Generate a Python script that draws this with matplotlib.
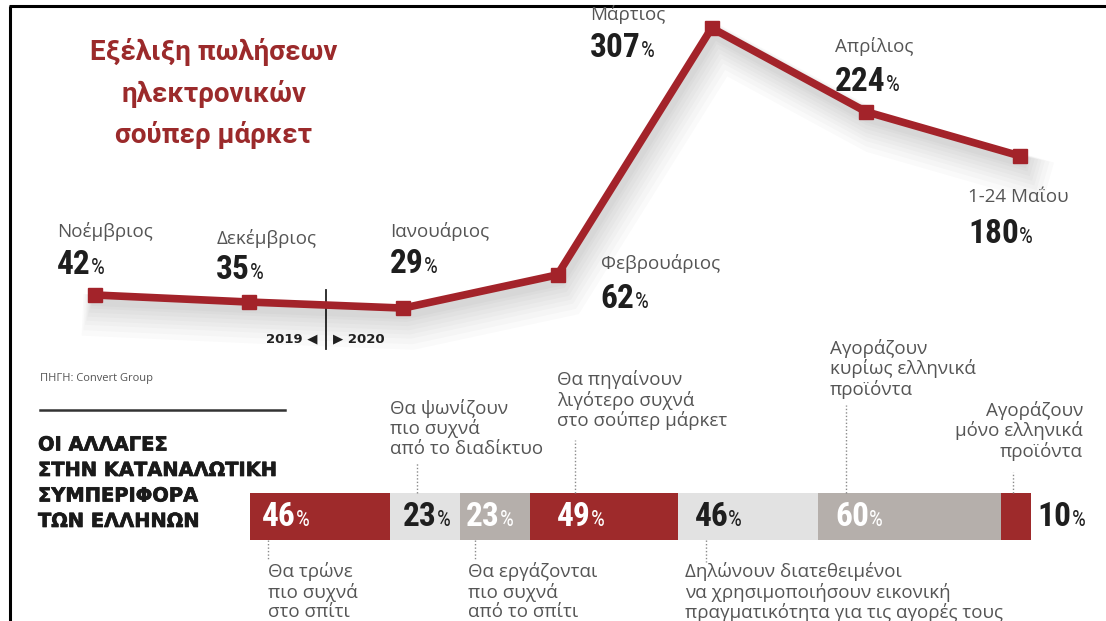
import matplotlib
matplotlib.use('Agg')
import matplotlib.pyplot as plt
from matplotlib import patheffects as pe
from matplotlib.offsetbox import TextArea, HPacker, AnnotationBbox

# μηνιαία αύξηση πωλήσεων (%)
months = ['Νοέμβριος', 'Δεκέμβριος', 'Ιανουάριος', 'Φεβρουάριος',
          'Μάρτιος', 'Απρίλιος', '1-24 Μαΐου']
growth = [42, 35, 29, 62, 307, 224, 180]

# αλλαγές στην καταναλωτική συμπεριφορά (%)
shares = [46, 23, 23, 49, 46, 60, 10]
share_notes = ['Θα τρώνε\nπιο συχνά\nστο σπίτι',
               'Θα ψωνίζουν\nπιο συχνά\nαπό το διαδίκτυο',
               'Θα εργάζονται\nπιο συχνά\nαπό το σπίτι',
               'Θα πηγαίνουν\nλιγότερο συχνά\nστο σούπερ μάρκετ',
               'Δηλώνουν διατεθειμένοι\nνα χρησιμοποιήσουν εικονική\nπραγματικότητα για τις αγορές τους',
               'Αγοράζουν\nκυρίως ελληνικά\nπροϊόντα',
               'Αγοράζουν\nμόνο ελληνικά\nπροϊόντα']

title_lines = ['Εξέλιξη πωλήσεων', 'ηλεκτρονικών', 'σούπερ μάρκετ']
heading_lines = ['ΟΙ ΑΛΛΑΓΕΣ', 'ΣΤΗΝ ΚΑΤΑΝΑΛΩΤΙΚΗ', 'ΣΥΜΠΕΡΙΦΟΡΑ', 'ΤΩΝ ΕΛΛΗΝΩΝ']

RED = '#a3232a'
BAR_RED = '#9e2a2b'
LIGHT = '#e2e2e2'
MID = '#b5afab'
GREY_TXT = '#555555'
NUM_FONT = ['Roboto Condensed', 'Liberation Sans Narrow', 'DejaVu Sans']
TXT_FONT = ['Open Sans', 'DejaVu Sans']

W, H = 1106, 621
fig = plt.figure(figsize=(W / 100, H / 100), dpi=100)

# φόντο σε pixel για κείμενα και πλαίσιο
bg = fig.add_axes([0, 0, 1, 1])
bg.set_xlim(0, W)
bg.set_ylim(H, 0)
bg.axis('off')
bg.plot([9, W], [6, 6], color='black', lw=2.2, solid_capstyle='butt', zorder=10)
bg.plot([10, 10], [6, H], color='black', lw=2.2, solid_capstyle='butt', zorder=10)


def pct_box(num, color, size=24):
    big = TextArea(str(num), textprops=dict(family=NUM_FONT, weight='bold',
                                            size=size, color=color))
    small = TextArea('%', textprops=dict(family=NUM_FONT, size=size * 0.66,
                                         color=color))
    return HPacker(children=[big, small], align='baseline', pad=0, sep=0)


# τίτλος
for k, line in enumerate(title_lines):
    bg.text(214, 52 + k * 41.5, line, ha='center', va='center',
            family=['Roboto', 'DejaVu Sans'], weight='bold', size=20,
            color='#9b2a2b')

# ---------------- γραμμή ----------------
step = (1020 - 95) / 6
ax = fig.add_axes([0, (H - 337.3) / H, 1, 337.3 / H])
ax.set_xlim(-95 / step, (W - 95) / step)
ax.set_ylim(0, 337.3 / 1.0075)
ax.axis('off')

xs = list(range(len(growth)))
# απαλή σκιά κάτω από τη γραμμή
shadow = [pe.SimpleLineShadow(offset=(0.2 * w, -0.5 * w), shadow_color='#000000',
                              alpha=0.018, linewidth=w)
          for w in (30, 26, 22, 19, 16, 13, 10, 8)]
ax.plot(xs, growth, color=RED, lw=5.5, solid_joinstyle='miter', clip_on=False,
        path_effects=shadow + [pe.Normal()], zorder=3)
ax.plot(xs, growth, 's', color=RED, ms=10, clip_on=False, zorder=4)

# θέσεις ετικετών σε pixel σε σχέση με το σημείο
name_off = [(-38, 63), (-33, 64), (-13, 77), (43, 11), (-122, 13), (-31, 65), (-52, -41)]
num_off = [(-38, 30), (-33, 32), (-13, 44), (43, -24), (-122, -20), (-31, 30), (-52, -78)]
for i, (m, v) in enumerate(zip(months, growth)):
    ax.annotate(m, (i, v), xytext=name_off[i], textcoords='offset pixels',
                ha='left', va='center', family=TXT_FONT, size=13.5, color=GREY_TXT,
                annotation_clip=False)
    ab = AnnotationBbox(pct_box(v, '#1e1e1e'), (i, v), xybox=num_off[i],
                        boxcoords='offset pixels', box_alignment=(0, 0.5),
                        frameon=False, pad=0, annotation_clip=False)
    ax.add_artist(ab)

# όριο 2019 / 2020
ax.plot([1.5, 1.5], [47, -12], color='#222222', lw=1.3, clip_on=False)
bg.text(317, 339, '2019 ◀', ha='right', va='center', family='DejaVu Sans',
        weight='bold', size=9.5, color='#222222')
bg.text(333, 339, '▶ 2020', ha='left', va='center', family='DejaVu Sans',
        weight='bold', size=9.5, color='#222222')

# πηγή και επικεφαλίδα
bg.text(40, 378, 'ΠΗΓΗ: Convert Group', ha='left', va='center', family=TXT_FONT,
        size=8, color=GREY_TXT)
bg.plot([40, 285], [410, 410], color='#333333', lw=1.8)
for k, line in enumerate(heading_lines):
    bg.text(38, 445 + k * 25.5, line, ha='left', va='center', family='DejaVu Sans',
            weight='bold', size=14, color='#1a1a1a',
            path_effects=[pe.withStroke(linewidth=0.5, foreground='#1a1a1a')])

# ---------------- μπάρα ----------------
total = sum(shares)
bx = fig.add_axes([250 / W, (H - 540) / H, 781 / W, 47 / H])
bx.set_xlim(0, total)
bx.set_ylim(0, 1)
bx.axis('off')

lefts = [sum(shares[:i]) for i in range(len(shares))]
seg_colors = [BAR_RED, LIGHT, MID, BAR_RED, LIGHT, MID, BAR_RED]
bx.barh(0.5, shares, left=lefts, height=1, color=seg_colors, edgecolor='none')

num_colors = ['white', '#1e1e1e', 'white', 'white', '#1e1e1e', 'white', '#1e1e1e']
num_dx = [12, 13, 6, 27, 16, 17, 37]
for i, v in enumerate(shares):
    ab = AnnotationBbox(pct_box(v, num_colors[i], size=24), (lefts[i], 0.5),
                        xybox=(num_dx[i], -1), boxcoords='offset pixels',
                        box_alignment=(0, 0.5), frameon=False, pad=0,
                        annotation_clip=False)
    bx.add_artist(ab)

# διακεκομμένες οδηγοί: απόσταση από αρχή τμήματος, άκρο σε μονάδες άξονα
lead_dx = [6, 9, 5, 15, 9, 9, 4]
lead_end = [-0.43, 1.66, -0.43, 2.13, -0.47, 2.87, 1.45]
for i in range(len(shares)):
    start = 0 if lead_end[i] < 0 else 1
    bx.plot([lefts[i] + lead_dx[i]] * 2, [start, lead_end[i]], color='#8a8a8a',
            lw=1, ls=(0, (1, 1.5)), clip_on=False)

# σημειώσεις (αριστερή άκρη / πάνω άκρη σε pixel)
note_pos = [(268, 562, 'left'), (390, 399, 'left'), (468, 562, 'left'),
            (557, 370, 'left'), (685, 562, 'left'), (830, 339, 'left'),
            (1083, 401, 'right')]
for (x, y, ha), note in zip(note_pos, share_notes):
    bg.text(x, y, note, ha=ha, va='top', multialignment=ha, family=TXT_FONT,
            size=13.5, color=GREY_TXT, linespacing=1.1)

fig.savefig('out.png', dpi=100)
